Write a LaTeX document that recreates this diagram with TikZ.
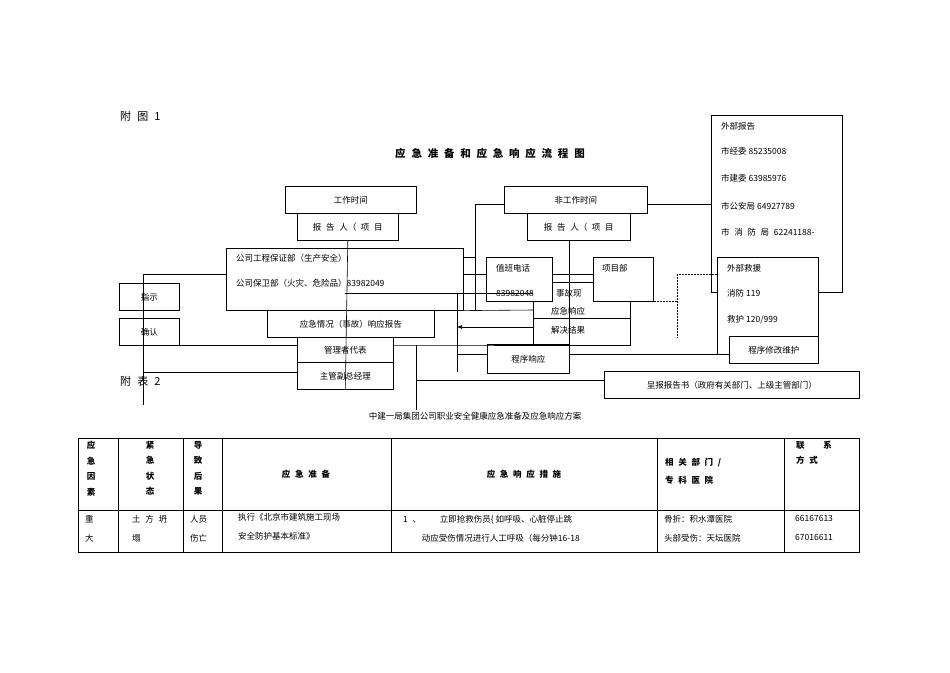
\documentclass[tikz,border=0pt]{standalone}
\usepackage{fontspec}
\setmainfont{Noto Sans CJK SC}
\usetikzlibrary{arrows.meta}
\newcommand{\gp}{\hspace{0.55em}}
\tikzset{
	box/.style={draw, line width=0.6pt, anchor=north west, inner sep=0pt, font=\fontsize{8.5}{10}\selectfont},
	wbox/.style={box, fill=white},
	txt/.style={anchor=west, inner sep=0pt, font=\fontsize{8.5}{10}\selectfont},
	cell/.style={anchor=north, inner sep=0pt, align=center, font=\fontsize{8.5}{15.5}\selectfont},
	link/.style={line width=0.6pt},
	dots/.style={line width=0.5pt, densely dotted}
}
\begin{document}
\begin{tikzpicture}[x=1pt, y=-1pt]
	\useasboundingbox (0,0) rectangle (950,672);

	\node[txt, font=\fontsize{11}{12}\selectfont] (fig) at (120,116) {附\gp 图\gp 1};
	\node[inner sep=0pt, font=\fontsize{10.5}{12}\bfseries\selectfont] (title) at (490,153) {应\gp 急\gp 准\gp 备\gp 和\gp 应\gp 急\gp 响\gp 应\gp 流\gp 程\gp 图};

	% outside
	\node[box, minimum width=131pt, minimum height=177pt] (wbbg) at (711,115) {};
	\node[txt] (wb1) at (721,126) {外部报告};
	\node[txt] (wb2) at (721,151) {市经委 85235008};
	\node[txt] (wb3) at (721,178) {市建委 63985976};
	\node[txt] (wb4) at (721,206) {市公安局 64927789};
	\node[txt] (wb5) at (721,232) {市\gp 消\gp 防\gp 局\gp 62241188-};
	\node[wbox, minimum width=101pt, minimum height=97pt] (wbjy) at (717,257) {};
	\node[txt] (jy1) at (727,268) {外部救援};
	\node[txt] (jy2) at (727,293) {消防 119};
	\node[txt] (jy3) at (727,320) {救护 120/999};
	\node[wbox, minimum width=89pt, minimum height=27pt] (xgwh) at (729,336) {程序修改维护};

	% times
	\node[box, minimum width=131pt, minimum height=27pt] (gzsj) at (285,186) {工作时间};
	\node[box, minimum width=101pt, minimum height=27pt] (bgrl) at (297,213) {报\gp 告\gp 人（\gp 项\gp 目};
	\node[box, minimum width=143pt, minimum height=27pt] (fgzsj) at (504,186) {非工作时间};
	\node[box, minimum width=103pt, minimum height=27pt] (bgrr) at (527,213) {报\gp 告\gp 人（\gp 项\gp 目};

	% company
	\node[box, minimum width=237pt, minimum height=62pt] (gs) at (226,248) {};
	\node[txt] (gs1) at (236,258) {公司工程保证部（生产安全）};
	\node[txt] (gs2) at (236,283) {公司保卫部（火灾、危险品）83982049};
	\node[box, minimum width=60pt, minimum height=27pt] (zs) at (119,283) {指示};
	\node[box, minimum width=60pt, minimum height=27pt] (qr) at (119,318) {确认};
	\node[wbox, minimum width=167pt, minimum height=27pt] (xybg) at (267,310) {应急情况（事故）响应报告};
	\node[box, minimum width=96pt, minimum height=25pt] (glz) at (297,337) {管理者代表};
	\node[box, minimum width=96pt, minimum height=27pt] (fzjl) at (297,362) {主管副总经理};

	% project
	\node[box, minimum width=97pt, minimum height=63pt] (sg) at (533,282) {};
	\draw[link] (sg.west |- 0,318) -- (sg.east |- 0,318);
	\node[inner sep=0pt, font=\fontsize{8.5}{10}\selectfont] (xy) at (568,311) {应急响应};
	\node[inner sep=0pt, font=\fontsize{8.5}{10}\selectfont] (jg) at (568,330) {解决结果};
	\node[wbox, minimum width=60pt, minimum height=44pt] (xmb) at (593,257) {};
	\node[txt] (xmbt) at (602,268) {项目部};
	\node[wbox, minimum width=66pt, minimum height=44pt] (zb) at (486,257) {};
	\node[txt] (zb1) at (496,268) {值班电话};
	\node[txt] (zb2) at (496,293) {83982048};
	\node[txt, fill=white] (sgt) at (556,293) {事故现};
	\node[box, minimum width=82pt, minimum height=29pt] (cxxy) at (487,344) {程序响应};
	\node[box, minimum width=255pt, minimum height=27pt] (cbbg) at (604,371) {呈报报告书（政府有关部门、上级主管部门）};

	% links
	\coordinate (lb) at (143,405);
	\draw[link] (lb) |- (gs.west |- 0,274);
	\draw[link] (qr.south east |- 0,345) -- (glz.west |- 0,345);
	\draw[link] (lb |- 0,372) -- (fzjl.west |- 0,372);
	\draw[link] (bgrl.south) -- (fzjl.south);
	\draw[link] (345,293) -- (sg.west |- 0,293);
	\draw[link] (gs.east |- 0,257) -- (475,257);
	\draw[link] (475,310) |- (fgzsj.west |- 0,204);
	\draw[link] (gs.south east) -- (sg.west |- 0,310);
	\draw[link] (gs.east |- 0,274) -- (zb.west |- 0,274);
	\draw[link] (glz.east |- 0,345) -- (457,345) -- (sg.west |- 0,345);
	\draw[link] (457,293) -- (457,372);
	\draw[link, -{Latex[length=5pt,width=4pt]}] (sg.west |- 0,327) -- (457,327);
	\draw[link] (457,354) -- (cxxy.west |- 0,354);
	\coordinate (lm) at (416,410);
	\draw[link] (416,345) -- (lm);
	\draw[link] (416,380) -- (cbbg.west |- 0,380);
	\draw[link] (zb.east |- 0,274) -- (xmb.west |- 0,274);
	\draw[link] (zb.east |- 0,282) -- (xmb.west |- 0,282);
	\draw[link] (bgrr.south west -| 569,0) -- (569,354) -- (xgwh.west |- 0,354);
	\draw[link] (fgzsj.east |- 0,204) -- (wbbg.west |- 0,204);
	\draw[dots] (xmb.east |- 0,301) -- (677,301);
	\draw[dots] (677,337) -- (677,274) -- (wbjy.west |- 0,274);

	\node[txt, font=\fontsize{11}{12}\selectfont] (tab) at (120,381) {附\gp 表\gp 2};
	\node[inner sep=0pt, font=\fontsize{8.5}{10}\selectfont] (cap) at (475,416) {中建一局集团公司职业安全健康应急准备及应急响应方案};

	% table
	\draw[line width=0.6pt] (78,438) rectangle (859,552);
	\draw[line width=0.6pt] (78,510) -- (859,510);
	\foreach \cx in {118,183,222,391,657,784}
		\draw[line width=0.6pt] (\cx,438) -- (\cx,552);
	\node[cell, font=\fontsize{8.5}{15.5}\bfseries\selectfont] (h1) at (91,441) {应\\急\\因\\素};
	\node[cell, font=\fontsize{8.5}{15.5}\bfseries\selectfont] (h2) at (150,441) {紧\\急\\状\\态};
	\node[cell, font=\fontsize{8.5}{15.5}\bfseries\selectfont] (h3) at (198,441) {导\\致\\后\\果};
	\node[inner sep=0pt, font=\fontsize{8.5}{10}\bfseries\selectfont] (h4) at (306,474) {应\gp 急\gp 准\gp 备};
	\node[inner sep=0pt, font=\fontsize{8.5}{10}\bfseries\selectfont] (h5) at (524,474) {应\gp 急\gp 响\gp 应\gp 措\gp 施};
	\node[anchor=north west, inner sep=0pt, align=left, font=\fontsize{8.5}{18}\bfseries\selectfont] (h6) at (665,458) {相\gp 关\gp 部\gp 门\gp /\\专\gp 科\gp 医\gp 院};
	\node[anchor=north west, inner sep=0pt, align=left, font=\fontsize{8.5}{15}\bfseries\selectfont] (h7) at (796,441) {联\hspace{2.2em}系\\方\gp 式};
	\node[anchor=north west, inner sep=0pt, align=left, font=\fontsize{8.5}{19}\selectfont] (b1) at (85,515) {重\\大};
	\node[anchor=north west, inner sep=0pt, align=left, font=\fontsize{8.5}{19}\selectfont] (b2) at (132,515) {土\gp 方\gp 坍\\塌};
	\node[anchor=north west, inner sep=0pt, align=left, font=\fontsize{8.5}{19}\selectfont] (b3) at (190,515) {人员\\伤亡};
	\node[anchor=north west, inner sep=0pt, align=left, font=\fontsize{8.5}{19}\selectfont] (b4) at (238,513) {执行《北京市建筑施工现场\\安全防护基本标准》};
	\node[anchor=north west, inner sep=0pt, align=left, font=\fontsize{8.5}{19}\selectfont] (b5) at (403,515) {1\gp 、\hspace{2.2em}立即抢救伤员{\{} 如呼吸、心脏停止跳\\\hspace{2.2em}动应受伤情况进行人工呼吸（每分钟16-18};
	\node[anchor=north west, inner sep=0pt, align=left, font=\fontsize{8.5}{19}\selectfont] (b6) at (664,515) {骨折：积水潭医院\\头部受伤：天坛医院};
	\node[anchor=north west, inner sep=0pt, align=left, font=\fontsize{8.5}{19}\selectfont] (b7) at (795,515) {66167613\\67016611};
\end{tikzpicture}
\end{document}
